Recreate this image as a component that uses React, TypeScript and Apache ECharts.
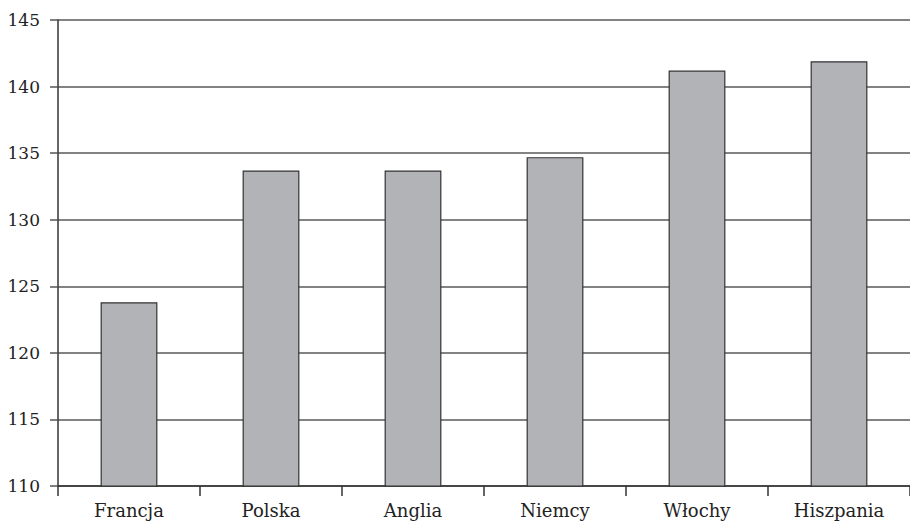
import React, { useEffect, useRef } from "react";
import * as echarts from "echarts";

const categories = ["Francja", "Polska", "Anglia", "Niemcy", "Włochy", "Hiszpania"];
const values = [123.8, 133.7, 133.7, 134.7, 141.2, 141.9];
const yMin = 110;
const yMax = 145;
const yStep = 5;

export default function App() {
  const ref = useRef<HTMLDivElement>(null);
  useEffect(() => {
    if (!ref.current) return;
    const chart = echarts.init(ref.current, null, { renderer: "svg" });
    chart.setOption({
      animation: false,
      backgroundColor: "#ffffff",
      grid: { left: 58, top: 20, width: 858, height: 466, containLabel: false },
      xAxis: {
        type: "category",
        data: categories,
        boundaryGap: true,
        axisLine: { show: true, lineStyle: { color: "#333", width: 1.5 } },
        axisTick: { show: true, length: 10, inside: false, lineStyle: { color: "#333", width: 1.5 } },
        axisLabel: {
          margin: 15,
          color: "#222",
          fontFamily: "DejaVu Serif",
          fontSize: 18,
        },
        splitLine: { show: false },
      },
      yAxis: {
        type: "value",
        min: yMin,
        max: yMax,
        interval: yStep,
        axisLine: { show: true, lineStyle: { color: "#333", width: 1.5 } },
        axisTick: { show: true, length: 8, lineStyle: { color: "#555", width: 1.5 } },
        axisLabel: {
          margin: 18,
          color: "#222",
          fontFamily: "DejaVu Serif",
          fontSize: 17,
        },
        splitLine: { show: true, lineStyle: { color: "#5a5a5a", width: 1.5 } },
      },
      series: [
        {
          type: "bar",
          data: values,
          barWidth: "40%",
          itemStyle: { color: "#b2b3b7", borderColor: "#333", borderWidth: 1.2 },
        },
      ],
    });
    return () => chart.dispose();
  }, []);
  return <div ref={ref} style={{ width: 910, height: 521, position: "absolute", left: 0, top: 0 }} />;
}
